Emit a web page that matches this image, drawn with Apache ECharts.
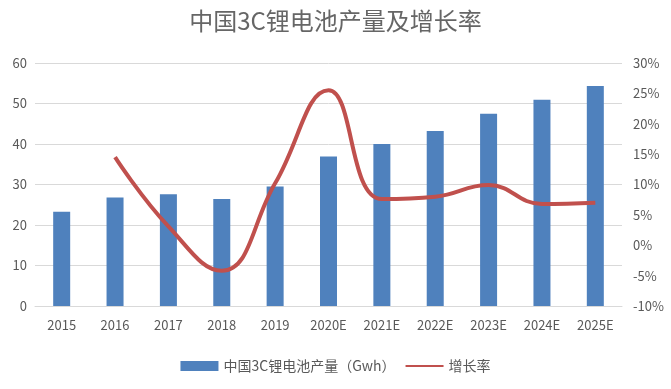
<!DOCTYPE html>
<html><head><meta charset="utf-8">
<script src="https://cdn.jsdelivr.net/npm/echarts@6/dist/echarts.min.js"></script>
<style>html,body{margin:0;padding:0;background:#fff}#c{width:671px;height:389px}</style>
</head><body><div id="c"></div>
<script>
const categories = ['2015','2016','2017','2018','2019','2020E','2021E','2022E','2023E','2024E','2025E'];
const production = [23.3, 26.8, 27.6, 26.4, 29.5, 36.9, 40.0, 43.2, 47.5, 50.9, 54.3];
const growth = [null, 14.5, 3.1, -4.2, 10.2, 25.5, 7.6, 8.0, 9.9, 6.8, 7.0];
const leftTicks = {min: 0, max: 60, interval: 10};
const rightTicks = {min: -10, max: 30, interval: 5};

const font = '"Noto Sans CJK SC", "Noto Sans", sans-serif';
const chart = echarts.init(document.getElementById('c'));
chart.setOption({
  animation: false,
  title: {text: '中国3C锂电池产量及增长率', left: 'center', top: 4,
    textStyle: {fontFamily: font, fontSize: 24, fontWeight: 'normal', color: '#666666'}},
  legend: {bottom: 11, left: 'center', itemGap: 10, itemWidth: 38, itemHeight: 10,
    textStyle: {fontFamily: font, fontSize: 14, color: '#595959'},
    data: [{name: '中国3C锂电池产量（Gwh）', icon: 'rect'},
           {name: '增长率', icon: 'path://M0,4 L40,4 L40,6 L0,6 Z'}]},
  grid: {left: 35, right: 49, top: 63, bottom: 83},
  xAxis: {type: 'category', data: categories,
    axisLine: {show: true, lineStyle: {color: '#d9d9d9'}}, axisTick: {show: false},
    axisLabel: {fontFamily: font, fontSize: 13, color: '#595959', margin: 13}},
  yAxis: [
    {type: 'value', min: leftTicks.min, max: leftTicks.max, interval: leftTicks.interval,
      axisLabel: {fontFamily: font, fontSize: 13, color: '#595959', margin: 8},
      splitLine: {lineStyle: {color: '#d9d9d9'}}, axisLine: {show: false}, axisTick: {show: false}},
    {type: 'value', min: rightTicks.min, max: rightTicks.max, interval: rightTicks.interval,
      axisLabel: {fontFamily: font, fontSize: 13, color: '#595959', margin: 11, formatter: '{value}%'},
      splitLine: {show: false}, axisLine: {show: false}, axisTick: {show: false}}
  ],
  series: [
    {name: '中国3C锂电池产量（Gwh）', type: 'bar', data: production, barWidth: 17,
      itemStyle: {color: '#4F81BD'}},
    {name: '增长率', type: 'line', yAxisIndex: 1, data: growth, smooth: 0.45,
      symbol: 'none', lineStyle: {color: '#C0504D', width: 4}, itemStyle: {color: '#C0504D'}}
  ]
});
</script></body></html>
